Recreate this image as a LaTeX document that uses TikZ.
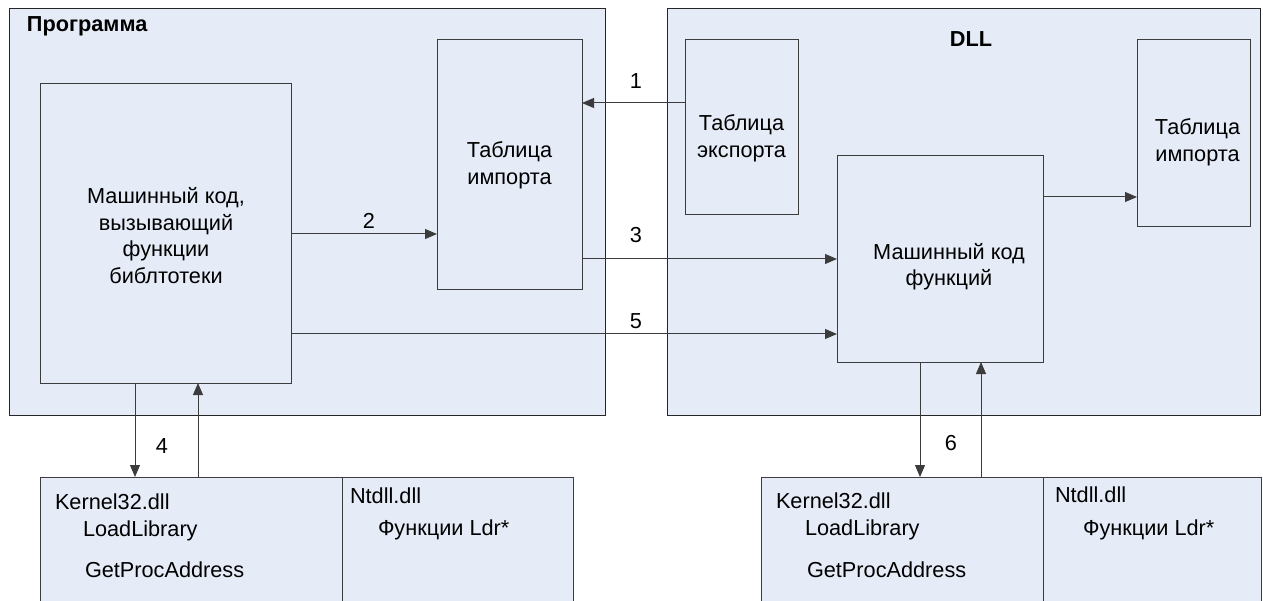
\documentclass[tikz,border=0pt]{standalone}
\usepackage{fontspec}
\setmainfont{Liberation Sans}
\usetikzlibrary{arrows.meta}
\definecolor{panelfill}{RGB}{230,236,247}
\definecolor{edge}{RGB}{60,60,60}

\begin{document}
\begin{tikzpicture}[x=1pt,y=-1pt,
  every node/.style={font=\fontsize{21.7}{26.5}\selectfont, inner sep=0pt, outer sep=0pt},
  panel/.style={rectangle, draw=black!85, fill=panelfill, line width=1pt, anchor=north west},
  box/.style={rectangle, draw=edge, fill=panelfill, line width=1pt},
  libbox/.style={rectangle, draw=edge, fill=panelfill, line width=1pt, anchor=north west},
  boxtext/.style={align=center},
  title/.style={font=\fontsize{21.7}{26.5}\selectfont\bfseries},
  entry/.style={anchor=base west},
  arr/.style={draw=edge, line width=1pt, -{Triangle[length=12pt,width=10pt]}},
]
\useasboundingbox (0,0) rectangle (1263,601);
\clip (0,0) rectangle (1263,601);
\fill[white] (0,0) rectangle (1263,601);

% the two address spaces
\node[panel, minimum width=596pt, minimum height=406.5pt] (prog) at (9,8.5) {};
\node[panel, minimum width=593pt, minimum height=406pt] (dll) at (667,9) {};
\node[title, anchor=base west] (progtitle) at (27,31.7) {Программа};
\node[title, anchor=base] (dlltitle) at (971,46.7) {DLL};

% blocks of the program
\node[box, minimum width=251pt, minimum height=299pt] (code) at (166.2,233.5) {};
\node[boxtext] (codetext) at (166,235.8) {Машинный код,\\вызывающий\\функции\\библтотеки};
\node[box, minimum width=145pt, minimum height=250pt] (imp) at (509.5,165) {};
\node[boxtext] (imptext) at (509.5,165.4) {Таблица\\импорта};

% blocks of the library
\node[box, minimum width=113pt, minimum height=175pt] (exp) at (741.5,127.5) {};
\node[boxtext] (exptext) at (741.5,138.4) {Таблица\\экспорта};
\node[box, minimum width=206pt, minimum height=206pt] (func) at (940,259) {};
\node[boxtext] (functext) at (949,266.9) {Машинный код\\функций};
\node[box, minimum width=113pt, minimum height=187pt] (dimp) at (1193.5,133.5) {};
\node[boxtext] (dimptext) at (1197.5,142.4) {Таблица\\импорта};

% system libraries under the program
\node[libbox, minimum width=302pt, minimum height=150pt] (k1) at (40,477) {};
\node[libbox, minimum width=231pt, minimum height=150pt] (n1) at (342,477) {};
\node[entry] (k1a) at (55,509) {Kernel32.dll};
\node[entry] (k1b) at (83,536) {LoadLibrary};
\node[entry] (k1c) at (85,577) {GetProcAddress};
\node[entry] (n1a) at (350,503) {Ntdll.dll};
\node[entry] (n1b) at (378,535) {Функции Ldr*};

% system libraries under the DLL
\node[libbox, minimum width=282pt, minimum height=150pt] (k2) at (761,477) {};
\node[libbox, minimum width=218pt, minimum height=150pt] (n2) at (1043,477) {};
\node[entry] (k2a) at (776,508) {Kernel32.dll};
\node[entry] (k2b) at (805,535) {LoadLibrary};
\node[entry] (k2c) at (807,577) {GetProcAddress};
\node[entry] (n2a) at (1055,502) {Ntdll.dll};
\node[entry] (n2b) at (1083,535) {Функции Ldr*};

% levels and columns of the connectors
\coordinate (r1) at (0,103);
\coordinate (r2) at (0,234);
\coordinate (r3) at (0,259);
\coordinate (r5) at (0,334);
\coordinate (rd) at (0,197);
\coordinate (c4) at (135,0);
\coordinate (c4u) at (198,0);
\coordinate (c6) at (920,0);
\coordinate (c6u) at (981,0);

\draw[arr] (exp.west |- r1) -- (imp.east |- r1);
\draw[arr] (code.east |- r2) -- (imp.west |- r2);
\draw[arr] (imp.east |- r3) -- (func.west |- r3);
\draw[arr] (code.east |- r5) -- (func.west |- r5);
\draw[arr] (func.east |- rd) -- (dimp.west |- rd);
\draw[arr] (code.south -| c4) -- (k1.north -| c4);
\draw[arr] (k1.north -| c4u) -- (code.south -| c4u);
\draw[arr] (func.south -| c6) -- (k2.north -| c6);
\draw[arr] (k2.north -| c6u) -- (func.south -| c6u);

% step numbers
\node (l1) at (636,81) {1};
\node (l2) at (369,221) {2};
\node (l3) at (636,235) {3};
\node (l4) at (162,446) {4};
\node (l5) at (636,321) {5};
\node (l6) at (951,443) {6};
\end{tikzpicture}
\end{document}
